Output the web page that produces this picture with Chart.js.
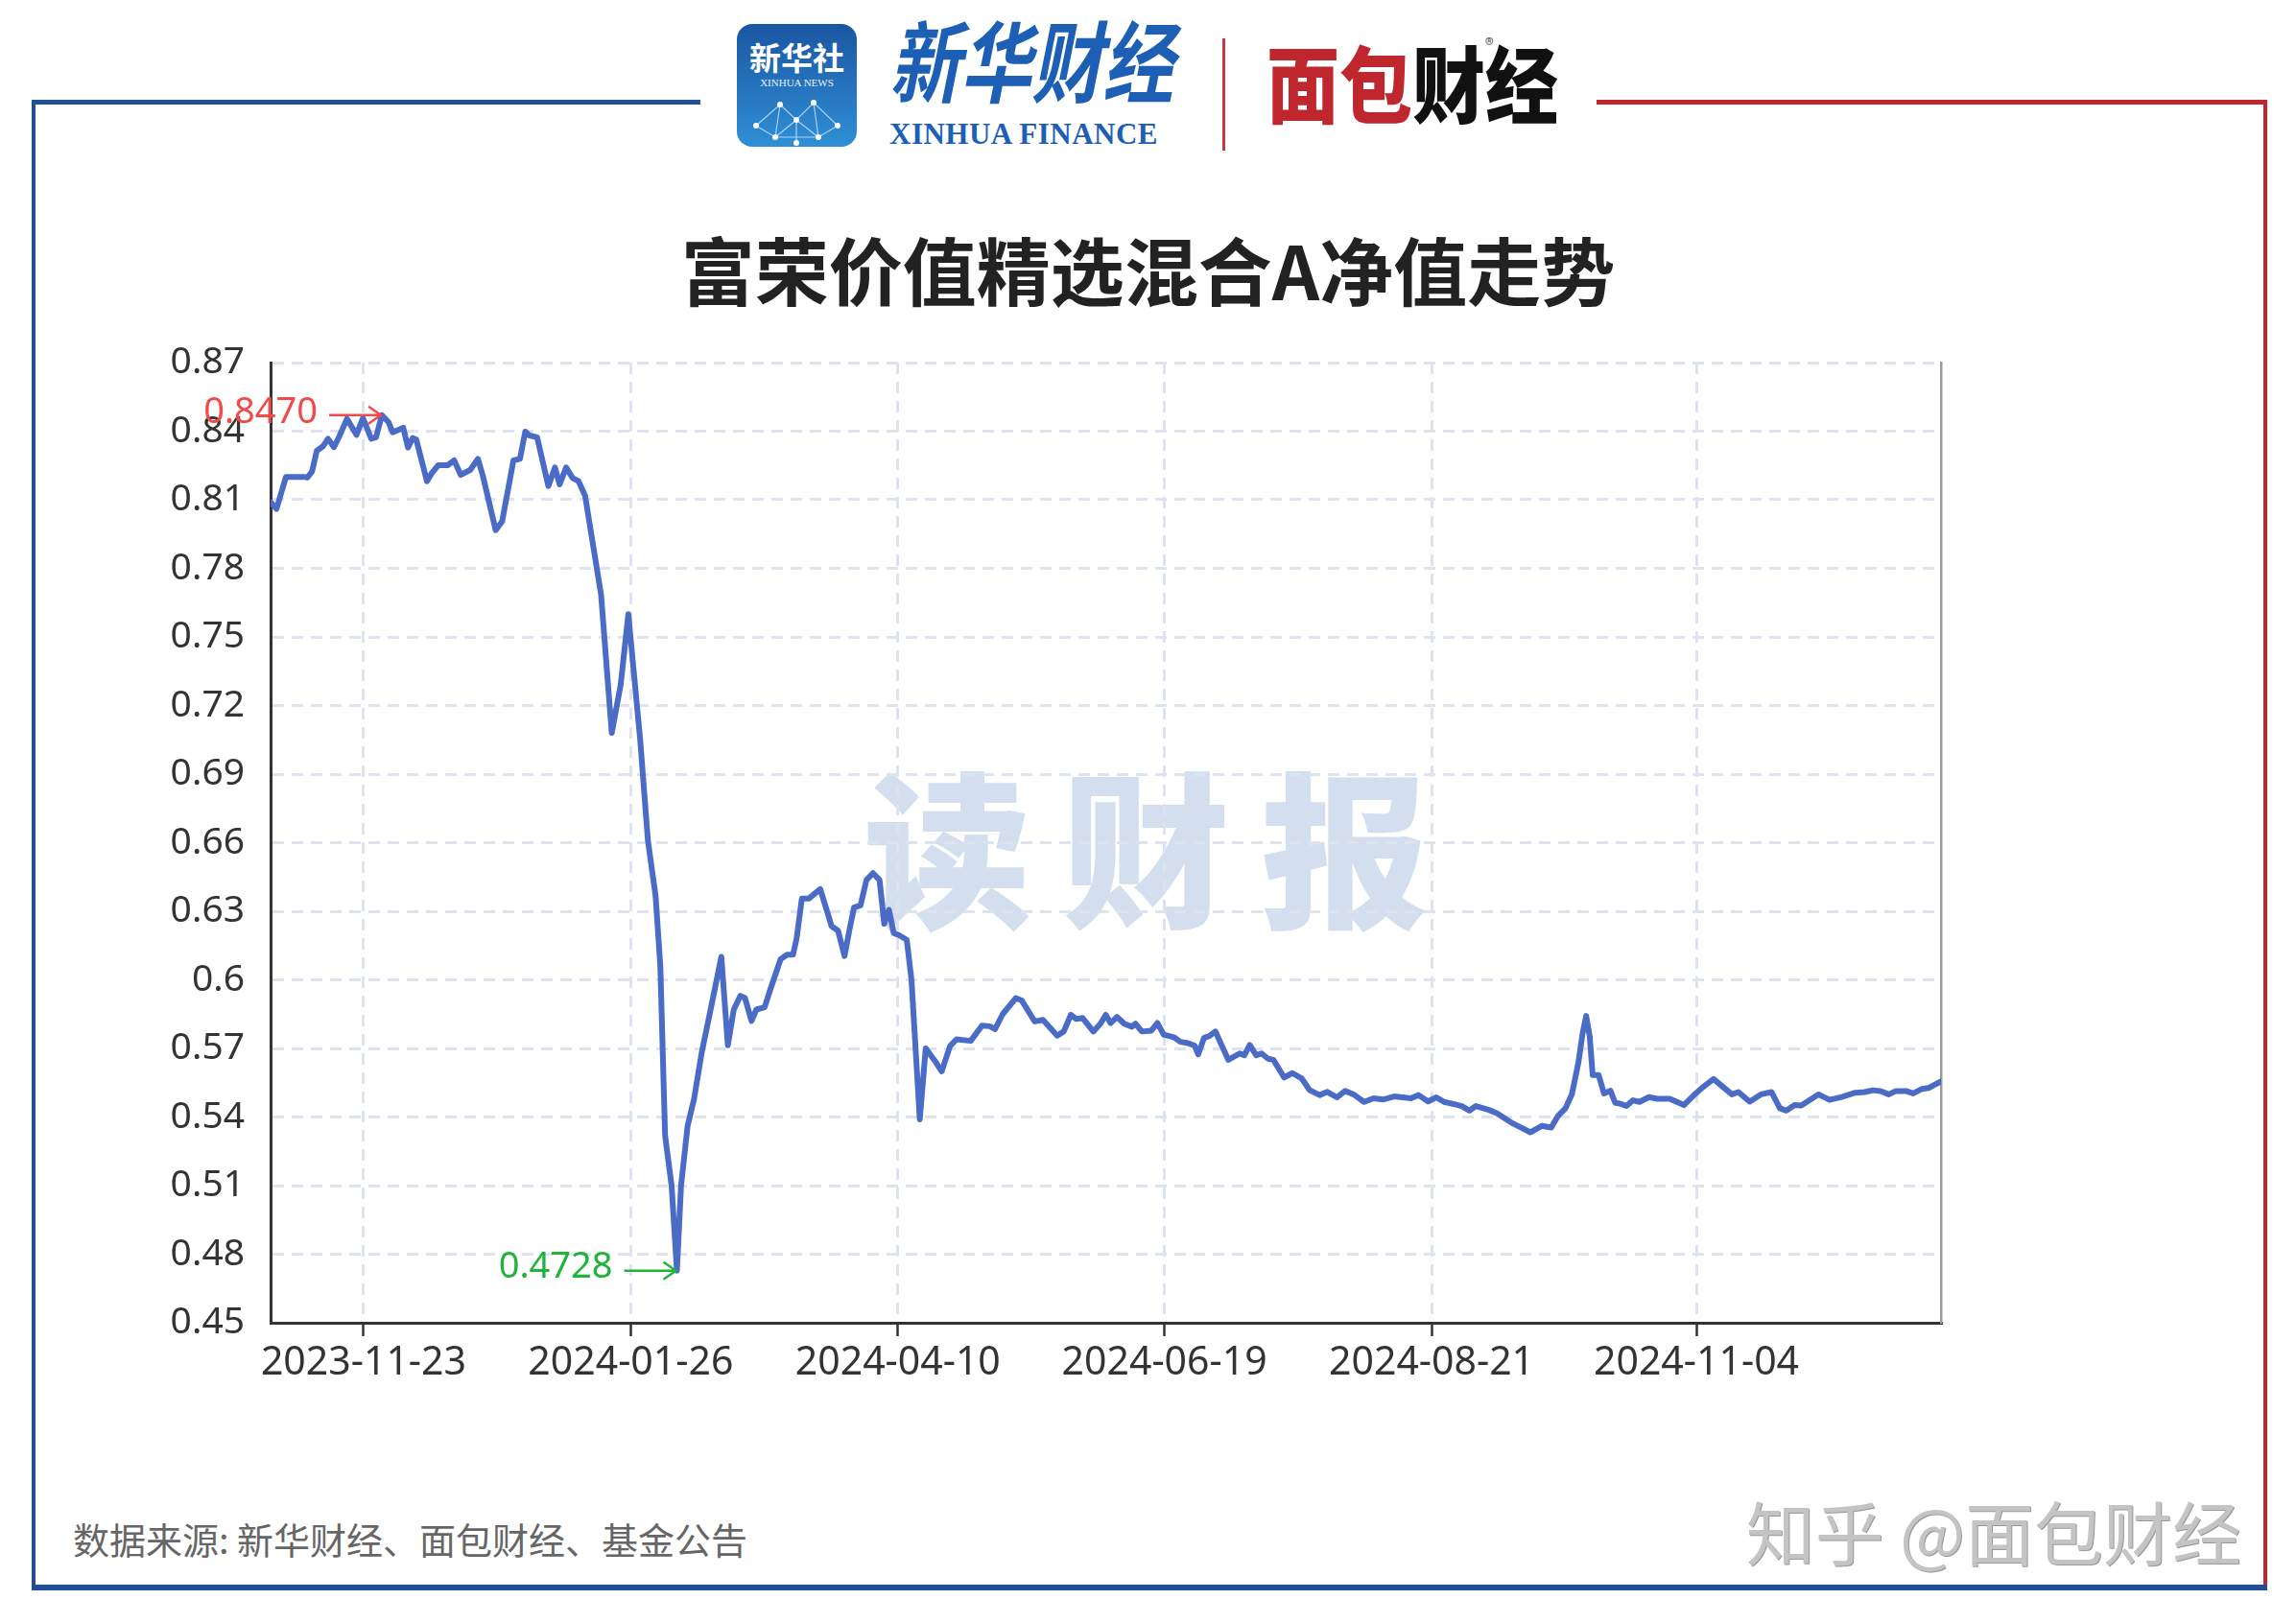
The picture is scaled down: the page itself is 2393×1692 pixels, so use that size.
<!DOCTYPE html>
<html lang="zh-CN">
<head>
<meta charset="utf-8">
<title>富荣价值精选混合A净值走势</title>
<script src="https://cdn.jsdelivr.net/npm/chart.js@4.4.1/dist/chart.umd.min.js"></script>
<style>
  html, body { margin: 0; padding: 0; background: #fff; }
  body { width: 2393px; height: 1692px; position: relative; overflow: hidden;
         font-family: "Noto Sans CJK SC", "Noto Sans", sans-serif; }
  .abs { position: absolute; }
  /* 外框 */
  .blue { background: #1f4f96; }
  .red { background: #c0262d; }
  /* logo */
  .xh-box { left: 768px; top: 25px; width: 125px; height: 128px; border-radius: 16px;
            background: linear-gradient(#1a56a2, #2f8fd6); overflow: hidden; }
  .xh-box .cn { position: absolute; top: 18px; width: 100%; text-align: center; color: #fff;
                font-size: 33px; font-weight: 700; line-height: 1; }
  .xh-box .en { position: absolute; top: 56px; width: 100%; text-align: center; color: #e8f0fa;
                font-family: "Liberation Serif", serif; font-size: 11px; line-height: 1; }
  .xh-fin { left: 927px; top: 14px; font-size: 74px; font-weight: 700; font-style: italic;
            color: #1d5fb4; line-height: 1; transform: scale(1, 1.25); transform-origin: top left; }
  .xh-en { left: 927px; top: 124px; font-family: "Liberation Serif", serif; font-weight: 700;
           font-size: 31px; color: #1d5fb4; line-height: 1; letter-spacing: 0.5px; }
  .mb { left: 1320px; top: 40px; font-size: 76px; font-weight: 900; line-height: 1;
        transform: scale(1, 1.15); transform-origin: top left; }
  .title { top: 241px; left: 0; width: 100%; text-align: center; font-size: 77px; font-weight: 700;
           color: #222; line-height: 1; }
  .wm { left: 900px; top: 790px; font-size: 175px; font-weight: 900; color: #d3deef;
        letter-spacing: 32px; line-height: 1; }
  .src { left: 76px; top: 1585px; font-size: 38px; color: #666; line-height: 1; }
  .zh { right: 57px; top: 1559px; font-size: 72px; color: #c4c4c4; line-height: 1;
        text-shadow: 1px 1px 0 #999; }
  canvas { position: absolute; left: 0; top: 0; }
</style>
</head>
<body>
<!-- 外框线 -->
<div class="abs blue" style="left:33px;top:104px;width:697px;height:5px"></div>
<div class="abs blue" style="left:33px;top:104px;width:4px;height:1554px"></div>
<div class="abs blue" style="left:33px;top:1652px;width:2330px;height:6px"></div>
<div class="abs red" style="left:1664px;top:104px;width:699px;height:5px"></div>
<div class="abs red" style="left:2359px;top:104px;width:4px;height:1548px"></div>

<!-- logo -->
<div class="abs xh-box">
  <div class="cn">新华社</div>
  <div class="en">XINHUA NEWS</div>
  <svg class="abs" style="left:0;top:66px" width="125" height="62">
    <g stroke="#cfe6fb" stroke-width="1.2" fill="none" opacity="0.8">
      <path d="M20 40 L45 18 L62 34 L80 16 L105 40 M45 18 L40 52 L62 34 L85 52 L80 16 M20 40 L40 52 L85 52 L105 40 M62 34 L62 58"/>
    </g>
    <g fill="#fff">
      <circle cx="20" cy="40" r="3"/><circle cx="45" cy="18" r="3"/><circle cx="62" cy="34" r="3"/>
      <circle cx="80" cy="16" r="3"/><circle cx="105" cy="40" r="3"/><circle cx="40" cy="52" r="3"/>
      <circle cx="85" cy="52" r="3"/><circle cx="62" cy="58" r="3"/>
    </g>
  </svg>
</div>
<div class="abs xh-fin">新华财经</div>
<div class="abs xh-en">XINHUA FINANCE</div>
<div class="abs" style="left:1274px;top:40px;width:3px;height:117px;background:#c8383e"></div>
<div class="abs mb"><span style="color:#c0262d">面包</span><span style="color:#111">财经</span></div>
<div class="abs" style="left:1548px;top:36px;font-size:18px;color:#555;line-height:1">®</div>

<div class="abs title">富荣价值精选混合A净值走势</div>
<div class="abs wm">读财报</div>
<div class="abs src">数据来源: 新华财经、面包财经、基金公告</div>
<div class="abs zh">知乎 @面包财经</div>

<canvas id="navChart" width="2393" height="1692"></canvas>

<script>
// 横轴刻度(交易日序号)和标签
const xTickPos = [15.7, 60.8, 105.9, 150.9, 196.0, 240.7];
const xTickLabels = ['2023-11-23', '2024-01-26', '2024-04-10', '2024-06-19', '2024-08-21', '2024-11-04'];
const yTicks = [0.45, 0.48, 0.51, 0.54, 0.57, 0.60, 0.63, 0.66, 0.69, 0.72, 0.75, 0.78, 0.81, 0.84, 0.87];

// 净值走势(交易日序号, 单位净值)
const dayIndex = [
  0.0, 1.0, 2.6, 5.6, 6.2, 7.0, 7.8, 8.9, 9.7, 10.7,
  11.6, 12.9, 14.5, 15.6, 17.0, 17.8, 18.8, 19.9, 20.6, 22.4,
  23.2, 24.0, 24.6, 26.4, 27.2, 28.3, 29.9, 31.0, 32.1, 33.7,
  35.0, 35.8, 38.0, 39.1, 41.0, 42.1, 43.0, 43.7, 45.0, 46.9,
  48.0, 48.8, 49.9, 51.0, 52.0, 53.1, 55.8, 57.6, 59.1, 60.4,
  62.4, 63.7, 65.0, 65.8, 66.6, 67.7, 68.6, 69.3, 70.4, 71.5,
  72.8, 74.2, 76.1, 77.2, 78.2, 79.3, 80.1, 81.2, 82.0, 83.4,
  84.4, 86.1, 87.2, 88.2, 88.8, 89.7, 90.9, 92.8, 94.7, 95.8,
  96.9, 97.7, 98.5, 99.6, 100.6, 101.7, 102.8, 103.6, 104.4, 105.2,
  106.1, 107.4, 108.2, 109.6, 110.6, 112.3, 113.3, 114.7, 115.8, 118.2,
  120.1, 121.4, 122.3, 123.6, 125.8, 126.8, 129.0, 130.4, 132.8, 133.9,
  135.1, 136.0, 137.1, 138.9, 140.1, 141.0, 141.8, 142.9, 144.1, 145.4,
  146.0, 147.1, 148.7, 149.7, 150.8, 152.5, 153.6, 154.9, 156.0, 156.6,
  157.6, 158.4, 159.5, 161.7, 163.6, 164.4, 165.3, 166.4, 167.3, 168.4,
  169.3, 171.1, 172.5, 174.1, 175.4, 177.1, 178.4, 180.0, 181.4, 183.0,
  184.6, 186.2, 187.9, 189.7, 192.5, 193.8, 195.4, 196.8, 198.1, 200.0,
  201.1, 202.4, 203.5, 205.7, 207.0, 209.7, 212.7, 214.6, 216.2, 217.3,
  218.6, 219.7, 220.8, 221.5, 222.1, 222.7, 223.2, 224.2, 225.1, 226.2,
  227.0, 227.8, 228.9, 230.0, 231.1, 232.7, 234.1, 236.2, 238.6, 240.5,
  241.6, 243.6, 245.1, 246.7, 247.8, 249.7, 251.6, 253.4, 254.8, 255.9,
  257.3, 258.4, 261.3, 263.2, 265.4, 267.5, 269.1, 270.5, 271.8, 273.2,
  274.3, 276.2, 277.3, 278.8, 279.9, 281.0, 282.0
];
const navValues = [
  0.8090, 0.8060, 0.8200, 0.8200, 0.8197, 0.8223, 0.8314, 0.8335, 0.8367, 0.8330,
  0.8377, 0.8454, 0.8384, 0.8457, 0.8367, 0.8373, 0.8470, 0.8440, 0.8395, 0.8415,
  0.8328, 0.8370, 0.8363, 0.8181, 0.8216, 0.8251, 0.8251, 0.8272, 0.8209, 0.8230,
  0.8279, 0.8209, 0.7967, 0.8006, 0.8272, 0.8279, 0.8398, 0.8381, 0.8373, 0.8160,
  0.8241, 0.8167, 0.8241, 0.8195, 0.8181, 0.8118, 0.7684, 0.7080, 0.7290, 0.7600,
  0.7050, 0.6610, 0.6367, 0.6060, 0.5320, 0.5100, 0.4728, 0.5100, 0.5360, 0.5480,
  0.5684, 0.5859, 0.6101, 0.5714, 0.5870, 0.5930, 0.5920, 0.5820, 0.5870, 0.5880,
  0.5960, 0.6090, 0.6110, 0.6110, 0.6180, 0.6356, 0.6356, 0.6397, 0.6235, 0.6215,
  0.6104, 0.6215, 0.6316, 0.6326, 0.6437, 0.6467, 0.6437, 0.6245, 0.6306, 0.6205,
  0.6195, 0.6175, 0.6000, 0.5390, 0.5700, 0.5640, 0.5600, 0.5710, 0.5740, 0.5733,
  0.5800, 0.5797, 0.5784, 0.5850, 0.5920, 0.5910, 0.5818, 0.5825, 0.5756, 0.5774,
  0.5847, 0.5829, 0.5833, 0.5774, 0.5808, 0.5847, 0.5811, 0.5838, 0.5808, 0.5795,
  0.5808, 0.5774, 0.5778, 0.5811, 0.5760, 0.5749, 0.5729, 0.5723, 0.5712, 0.5674,
  0.5747, 0.5753, 0.5774, 0.5650, 0.5678, 0.5670, 0.5715, 0.5670, 0.5678, 0.5655,
  0.5650, 0.5573, 0.5592, 0.5568, 0.5518, 0.5496, 0.5510, 0.5486, 0.5514, 0.5496,
  0.5466, 0.5482, 0.5477, 0.5490, 0.5482, 0.5496, 0.5468, 0.5486, 0.5466, 0.5455,
  0.5448, 0.5428, 0.5448, 0.5431, 0.5417, 0.5372, 0.5333, 0.5361, 0.5354, 0.5403,
  0.5438, 0.5501, 0.5640, 0.5766, 0.5842, 0.5752, 0.5584, 0.5584, 0.5503, 0.5515,
  0.5462, 0.5459, 0.5448, 0.5473, 0.5466, 0.5487, 0.5480, 0.5480, 0.5452, 0.5501,
  0.5526, 0.5566, 0.5534, 0.5499, 0.5509, 0.5467, 0.5499, 0.5509, 0.5438, 0.5428,
  0.5452, 0.5450, 0.5499, 0.5475, 0.5489, 0.5506, 0.5509, 0.5517, 0.5513, 0.5499,
  0.5513, 0.5513, 0.5503, 0.5523, 0.5527, 0.5542, 0.5556
];

Chart.defaults.font.family = '"Noto Sans", "DejaVu Sans", sans-serif';

// 最高点和最低点的标注
const extremaLabels = {
  id: 'extremaLabels',
  afterDatasetsDraw(chart) {
    const ctx = chart.ctx;
    const xs = chart.scales.x;
    const ys = chart.scales.y;
    const maxV = Math.max(...navValues);
    const minV = Math.min(...navValues);
    [[maxV, '#f24a4a'], [minV, '#20b43a']].forEach(([v, color]) => {
      const i = navValues.indexOf(v);
      const px = xs.getPixelForValue(dayIndex[i]);
      const py = ys.getPixelForValue(v);
      const tip = px - 1;
      const tail = px - 55;
      ctx.save();
      ctx.strokeStyle = color;
      ctx.lineWidth = 2.5;
      ctx.beginPath();
      ctx.moveTo(tail, py);
      ctx.lineTo(tip, py);
      ctx.moveTo(tip - 13, py - 9);
      ctx.lineTo(tip, py);
      ctx.lineTo(tip - 13, py + 9);
      ctx.stroke();
      ctx.fillStyle = color;
      ctx.font = '38px "Noto Sans", sans-serif';
      ctx.textAlign = 'right';
      ctx.textBaseline = 'middle';
      ctx.fillText(v.toFixed(4), tail - 12, py - 3);
      ctx.restore();
    });
  }
};

new Chart(document.getElementById('navChart'), {
  type: 'line',
  data: {
    datasets: [{
      label: '单位净值',
      data: dayIndex.map((d, i) => ({ x: d, y: navValues[i] })),
      borderColor: '#4a6bc6',
      borderWidth: 6,
      pointRadius: 0,
      tension: 0,
      borderJoinStyle: 'round',
      borderCapStyle: 'round'
    }]
  },
  options: {
    responsive: false,
    animation: false,
    devicePixelRatio: 1,
    layout: { padding: { top: 378, left: 0, right: 370, bottom: 193 } },
    plugins: { legend: { display: false }, tooltip: { enabled: false } },
    scales: {
      x: {
        type: 'linear',
        min: 0,
        max: 282,
        afterBuildTicks: s => { s.ticks = xTickPos.map(v => ({ value: v })); },
        afterFit: s => { s.height = 120; },
        ticks: {
          autoSkip: false,
          maxRotation: 0,
          color: '#333',
          font: { size: 41 },
          padding: 4,
          callback: (v, i) => xTickLabels[i]
        },
        grid: {
          color: '#dde3ef',
          lineWidth: 3,
          tickColor: '#333',
          tickWidth: 2.5,
          tickLength: 14,
          tickBorderDash: []
        },
        border: { color: '#333', width: 3, dash: [12, 8] }
      },
      y: {
        type: 'linear',
        position: 'left',
        min: 0.45,
        max: 0.87,
        afterBuildTicks: s => { s.ticks = yTicks.map(v => ({ value: v })); },
        afterFit: s => { s.width = 282; },
        ticks: {
          color: '#333',
          font: { size: 39 },
          padding: 27,
          callback: v => String(+v.toFixed(2))
        },
        grid: { color: '#dde3ef', lineWidth: 3, drawTicks: false },
        border: { color: '#333', width: 3, dash: [12, 8] }
      },
      y2: {
        type: 'linear',
        position: 'right',
        display: true,
        min: 0.45,
        max: 0.87,
        afterFit: s => { s.width = 0; },
        ticks: { display: false },
        grid: { drawOnChartArea: false, drawTicks: false },
        border: { color: '#9a9a9a', width: 2.5 }
      }
    }
  },
  plugins: [extremaLabels]
});
</script>
</body>
</html>
